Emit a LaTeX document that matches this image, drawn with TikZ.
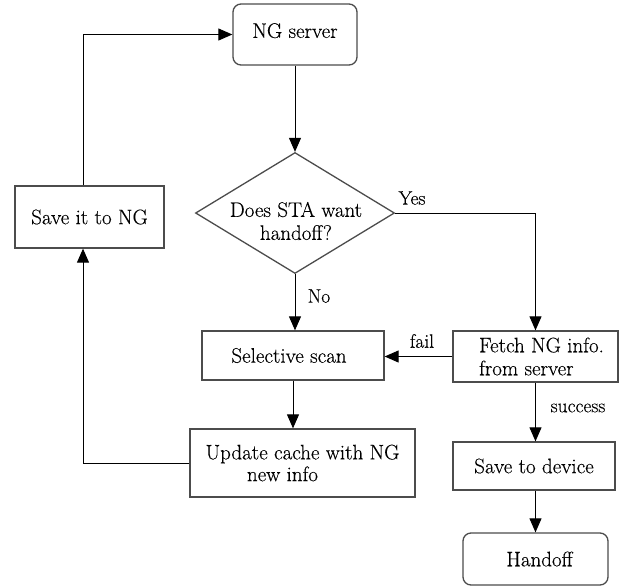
\documentclass[tikz,border=0pt]{standalone}
\usepackage{fontspec}
\setmainfont{Latin Modern Roman}[FakeBold=0.3]
\usetikzlibrary{arrows.meta,shapes.geometric}
\begin{document}
\begin{tikzpicture}[x=1pt,y=-1pt,
  every node/.style={font=\fontsize{21}{23}\selectfont},
  box/.style={draw=black!70, line width=1.3pt, rectangle, inner sep=0pt, align=center},
  rbox/.style={box, rounded corners=8pt},
  decision/.style={draw=black!70, line width=1.3pt, diamond, inner sep=0pt},
  lbl/.style={font=\fontsize{19.5}{21}\selectfont, inner sep=0pt},
  flow/.style={line width=1pt, -{Triangle[length=14pt,width=12pt]}}]
\useasboundingbox (0,0) rectangle (622,587);

% boxes
\node[rbox, minimum width=124pt, minimum height=61pt] (ng) at (295,34.5) {\raisebox{8pt}{NG server}};
\node[decision, minimum width=199pt, minimum height=121pt] (q) at (295,213) {};
\node[align=center, inner sep=0pt] (qtext) at (296,221) {Does STA want\\handoff?};
\node[box, minimum width=149pt, minimum height=62pt] (saveng) at (89.5,217) {Save it to NG};
\node[box, minimum width=182pt, minimum height=49pt] (scan) at (293,355.5) {\hspace*{-8pt}Selective scan};
\node[box, minimum width=165pt, minimum height=51pt, align=left] (fetch) at (535.5,356.5)
  {\hspace*{12pt}Fetch NG info.\\\hspace*{12pt}from server};
\node[box, minimum width=225pt, minimum height=68pt] (upd) at (302.5,463)
  {\raisebox{-4pt}{\shortstack{Update cache with NG\\ new info\hspace*{40pt}}}};
\node[box, minimum width=162pt, minimum height=48pt] (sdev) at (534,466) {Save to device};
\node[rbox, minimum width=145pt, minimum height=52pt] (hand) at (535.5,559) {\hspace*{8pt}Handoff};

% connectors
\draw[flow] (ng.south) -- (q.north);
\draw[flow] (q.east) -| (fetch.north);
\draw[flow] (q.south) -- (q.south |- scan.north);
\draw[flow] (fetch.west) -- (fetch.west -| scan.east);
\draw[flow] (scan.south) -- (scan.south |- upd.north);
\draw[flow] (upd.west) -| ([xshift=-6.5pt]saveng.south);
\draw[flow] ([xshift=-6.5pt]saveng.north) |- (ng.west);
\draw[flow] (fetch.south) -- (fetch.south |- sdev.north);
\draw[flow] (fetch.south |- sdev.south) -- (fetch.south |- hand.north);

% branch labels
\node[lbl] (yes) at (412,198) {Yes};
\node[lbl] (no) at (319,296) {No};
\node[lbl] (fail) at (422,341) {fail};
\node[lbl] (succ) at (578,408) {success};
\end{tikzpicture}
\end{document}
